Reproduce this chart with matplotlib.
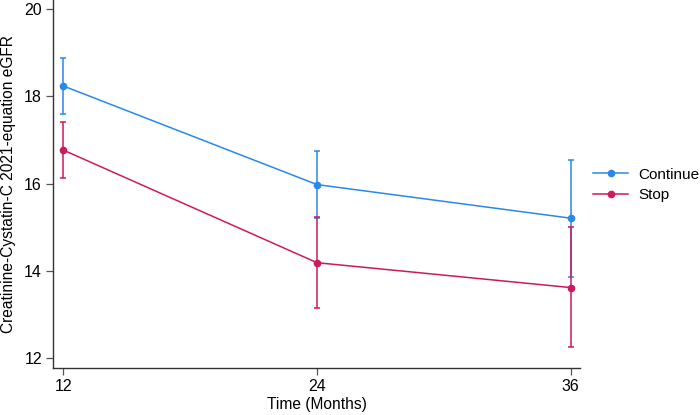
import matplotlib
matplotlib.use("Agg")
import matplotlib.pyplot as plt
from matplotlib.lines import Line2D

plt.rcParams['font.family'] = ['Liberation Sans', 'DejaVu Sans']

months = [12, 24, 36]
continue_mean = [18.24, 15.98, 15.21]
continue_lo = [17.60, 15.22, 13.87]
continue_hi = [18.88, 16.74, 16.55]
stop_mean = [16.77, 14.19, 13.62]
stop_lo = [16.13, 13.15, 12.25]
stop_hi = [17.42, 15.24, 15.00]

BLUE = "#2a88e8"
RED = "#cc1a5c"

fig = plt.figure(figsize=(7.0, 4.15), dpi=100)
ax = fig.add_axes([53 / 700, 1 - 368.3 / 415, (580 - 53) / 700, 368.3 / 415])

handles = []
for mean, lo, hi, color, label in [
    (continue_mean, continue_lo, continue_hi, BLUE, "Continue"),
    (stop_mean, stop_lo, stop_hi, RED, "Stop"),
]:
    yerr = [[m - l for m, l in zip(mean, lo)], [h - m for m, h in zip(mean, hi)]]
    ax.errorbar(months, mean, yerr=yerr, color=color, lw=1.1, elinewidth=1.1,
                capsize=2.3, capthick=1.1, marker='o', markersize=4.5)
    handles.append(Line2D([], [], color=color, lw=1.1, marker='o', markersize=4.5, label=label))

ax.set_xlim(11.51, 36.44)
ax.set_ylim(11.77, 20.21)
ax.set_xticks(months)
ax.set_yticks([12, 14, 16, 18, 20])
ax.tick_params(labelsize=11.5, length=5, width=0.9, color="#555555", pad=3)
for side in ('top', 'right'):
    ax.spines[side].set_visible(False)
for side in ('left', 'bottom'):
    ax.spines[side].set_color("#333333")
    ax.spines[side].set_linewidth(1.0)

ax.set_xlabel("Time (Months)", fontsize=11.2, labelpad=2)
ax.set_ylabel("Creatinine-Cystatin-C 2021-equation eGFR", fontsize=11.2, labelpad=6)

ax.legend(handles=handles, loc='center left', bbox_to_anchor=(587 / 700, 1 - 185 / 415),
          bbox_transform=fig.transFigure, frameon=False, fontsize=11,
          handlelength=2.3, handletextpad=0.65, labelspacing=0.45,
          borderaxespad=0)

fig.savefig("out.png", dpi=100)
